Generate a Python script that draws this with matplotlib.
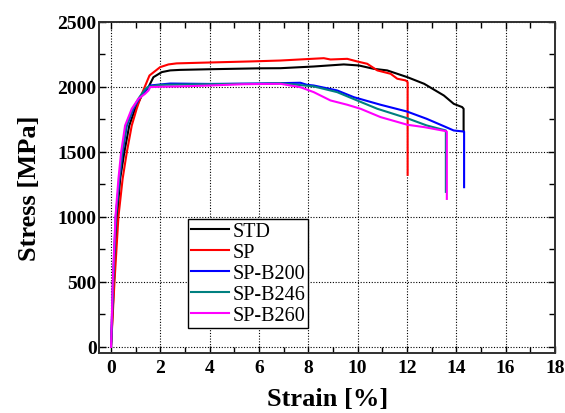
import matplotlib.pyplot as plt
from matplotlib.ticker import MultipleLocator

plt.switch_backend('Agg')

# strain [%] / stress [MPa]
std_strain = [0, 0.12, 0.25, 0.37, 0.54, 0.74, 0.98, 1.25, 1.52, 1.72, 2.06, 2.4, 2.8, 4.0, 6.0,
              6.87, 8.22, 9.44, 10.05, 10.66, 11.2, 12.02, 12.7, 13.5, 13.9, 14.24, 14.3, 14.3]
std_stress = [0, 500, 1000, 1292, 1497, 1702, 1831, 1933, 1998, 2074, 2113, 2126, 2130, 2135, 2142,
              2143, 2156, 2172, 2164, 2138, 2126, 2074, 2023, 1933, 1869, 1844, 1831, 1660]

sp_strain = [0, 0.14, 0.30, 0.47, 0.64, 0.84, 1.04, 1.25, 1.56, 1.99, 2.33, 2.66, 3.63, 5.66,
             6.87, 8.63, 8.9, 9.58, 9.98, 10.39, 10.8, 11.34, 11.61, 11.95, 12.03, 12.03]
sp_stress = [0, 500, 1000, 1292, 1497, 1702, 1831, 1946, 2087, 2151, 2172, 2180, 2185, 2195,
             2202, 2220, 2210, 2215, 2195, 2177, 2126, 2100, 2062, 2049, 2036, 1323]

b200_strain = [0, 0.08, 0.19, 0.34, 0.47, 0.64, 0.91, 1.18, 1.45, 1.59, 2.0, 2.4, 4.0, 6.0,
               6.87, 7.68, 7.95, 8.22, 9.17, 9.85, 10.93, 12.0, 12.8, 13.5, 13.9, 14.3, 14.32, 14.32]
b200_stress = [0, 500, 1000, 1292, 1497, 1702, 1831, 1920, 1985, 2010, 2018, 2025, 2022, 2025,
               2028, 2031, 2015, 2010, 1972, 1920, 1862, 1810, 1754, 1697, 1664, 1656, 1655, 1228]

b246_strain = [0, 0.09, 0.2, 0.33, 0.45, 0.62, 0.88, 1.15, 1.4, 1.5, 2.0, 4.0, 6.0,
               6.87, 8.22, 9.17, 9.98, 10.8, 12.0, 12.8, 13.58, 13.58]
b246_stress = [0, 500, 1000, 1292, 1497, 1702, 1831, 1920, 1985, 2000, 2015, 2020, 2024,
               2028, 2003, 1959, 1895, 1831, 1759, 1703, 1664, 1192]

b260_strain = [0, 0.07, 0.18, 0.3, 0.41, 0.57, 0.84, 1.11, 1.38, 1.52, 1.59, 2.0, 2.8, 4.0, 5.4,
               6.87, 7.68, 8.22, 8.9, 9.58, 10.12, 10.93, 12.02, 12.7, 13.58, 13.62, 13.62]
b260_stress = [0, 500, 1000, 1292, 1497, 1702, 1831, 1908, 1946, 1972, 1998, 2000, 2003, 2010, 2020,
               2023, 1997, 1959, 1895, 1862, 1831, 1767, 1708, 1690, 1659, 1655, 1138]

labels = ['STD', 'SP', 'SP-B200', 'SP-B246', 'SP-B260']
colors = ['#000000', '#ff0000', '#0000ff', '#008080', '#ff00ff']

plt.rcParams['font.family'] = ['Liberation Serif', 'DejaVu Serif']
plt.rcParams['font.weight'] = 'bold'

fig = plt.figure(figsize=(5.65, 4.14), dpi=100, facecolor='white')
ax = fig.add_axes([0.176, 0.144, 0.806, 0.801])

series = [(std_strain, std_stress), (sp_strain, sp_stress), (b200_strain, b200_stress),
          (b246_strain, b246_stress), (b260_strain, b260_stress)]
for (x, y), lab, c in zip(series, labels, colors):
    ax.plot(x, y, color=c, linewidth=1.5, label=lab)

ax.set_xlim(-0.47, 18)
ax.set_ylim(-50, 2500)
ax.xaxis.set_major_locator(MultipleLocator(2))
ax.xaxis.set_minor_locator(MultipleLocator(1))
ax.yaxis.set_major_locator(MultipleLocator(500))
ax.yaxis.set_minor_locator(MultipleLocator(250))
ax.tick_params(which='both', direction='in', top=True, right=True, width=1)
ax.tick_params(which='major', length=5, labelsize=14, pad=4)
ax.tick_params(which='minor', length=4)
ax.tick_params(axis='y', pad=2)

ax.grid(True, which='major', color='black', linestyle=(0, (1, 1.5)), linewidth=0.8)
for s in ax.spines.values():
    s.set_color('#303030')
    s.set_linewidth(1.4)

ax.set_xlabel('Strain [%]', fontsize=19, fontweight='bold', labelpad=8)
ax.set_ylabel('Stress [MPa]', fontsize=19, fontweight='bold', labelpad=12)

leg = ax.legend(loc='lower left', bbox_to_anchor=(0.195, 0.076), borderaxespad=0,
                prop={'size': 14.5, 'weight': 'normal'}, handlelength=1.85,
                handletextpad=0.2, labelspacing=0.1, borderpad=0.15, fancybox=False,
                framealpha=1, edgecolor='black')
leg.get_frame().set_linewidth(1.0)

fig.savefig('out.png', dpi=100, facecolor='white')
